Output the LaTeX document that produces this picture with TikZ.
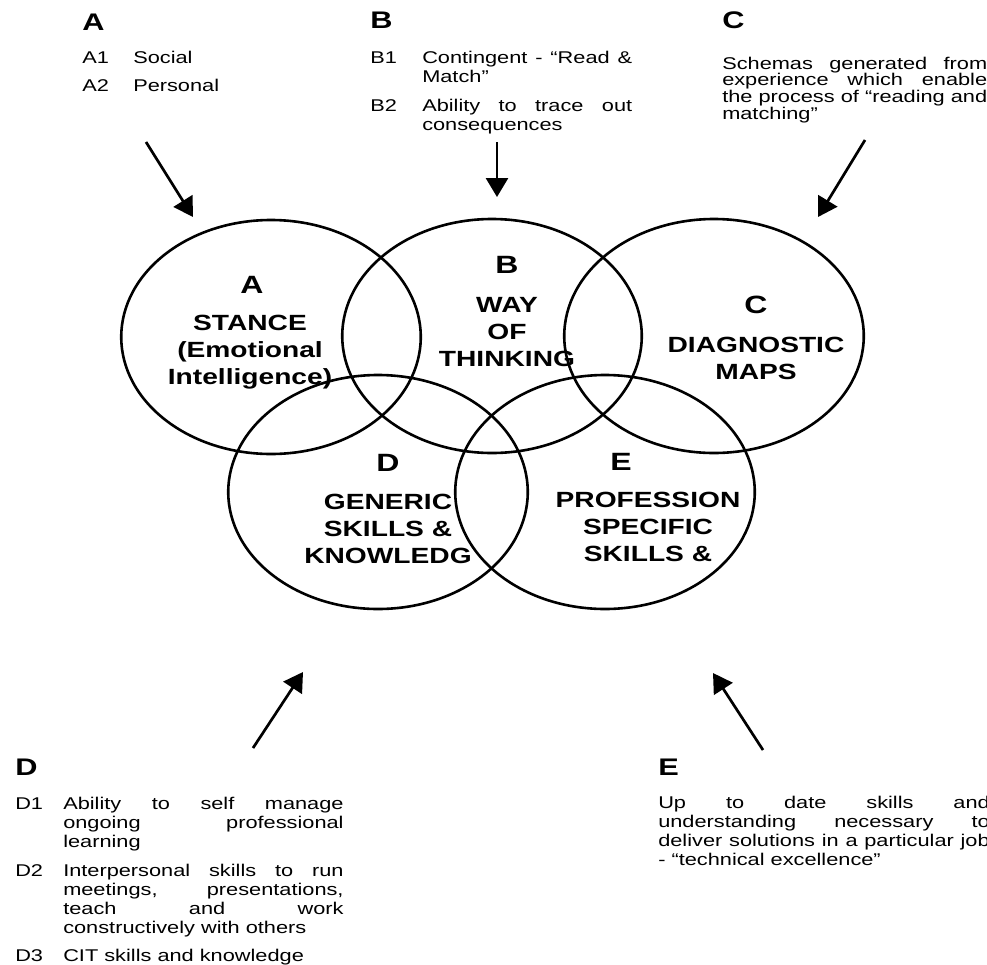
\documentclass[tikz,border=0pt]{standalone}
\usepackage{fontspec}
\setmainfont{Liberation Sans}
\usetikzlibrary{arrows.meta}
\tikzset{
    % Venn ring (a circle, stretched sideways like the rest)
    venn/.style={
        circle, draw, line width=2.6pt,
        minimum size=234pt, inner sep=0pt, xscale=1.28
    },
    % Letter and caption inside a ring
    ringletter/.style={font=\fontsize{25}{27}\selectfont\bfseries, xscale=1.28, inner sep=0pt},
    ringtext/.style={font=\fontsize{22}{27}\selectfont\bfseries, align=center,
        xscale=1.28, inner sep=0pt, anchor=north},
    % Notes round the diagram
    notehead/.style={font=\fontsize{24}{26}\selectfont\bfseries, xscale=1.28,
        inner sep=0pt, anchor=base west},
    notetag/.style={font=\fontsize{17}{19}\selectfont, xscale=1.28,
        inner sep=0pt, anchor=base west},
    notetext/.style={notetag, align=justify},
    % Arrows from the notes to the rings
    pointer/.style={-{Triangle[length=19pt,width=22pt]}, line width=2.7pt},
}

\begin{document}
\begin{tikzpicture}[x=1pt,y=-1pt]
  \path[fill=white,use as bounding box] (0,0) rectangle (987,964);
  % rings
  \foreach \n/\x/\y in {A/271/337,B/492/336,C/714/336,D/378/492,E/605/492}{\node[venn] (\n) at (\x,\y) {};}
  \node[ringletter] (lA) at (252,285) {A};
  \node[ringletter] (lB) at (507,265) {B};
  \node[ringletter] (lC) at (756,305) {C};
  \node[ringletter] (lD) at (388,463) {D};
  \node[ringletter] (lE) at (621,462) {E};
  \node[ringtext] (tA) at (250,315) {STANCE\\(Emotional\\Intelligence)};
  \node[ringtext] (tB) at (507,297) {WAY\\OF\\THINKING};
  \node[ringtext] (tC) at (756,337) {DIAGNOSTIC\\MAPS};
  \node[ringtext] (tD) at (388,494) {GENERIC\\SKILLS \&\\KNOWLEDG};
  \node[ringtext] (tE) at (648,492) {PROFESSION\\SPECIFIC\\SKILLS \&};
  % notes
  \node[notehead] (hA) at (82,30) {A};
  \node[notetag] (kA1) at (82,63) {A1};
  \node[notetag] (nA1) at (133,63) {Social};
  \node[notetag] (kA2) at (82,91) {A2};
  \node[notetag] (nA2) at (133,91) {Personal};
  \node[notehead] (hB) at (370,28) {B};
  \node[notetag] (kB1) at (370,63) {B1};
  \node[notetext,text width=164pt] (nB1) at (422,63) {Contingent - “Read \&\linebreak Match”};
  \node[notetag] (kB2) at (370,111) {B2};
  \node[notetext,text width=164pt] (nB2) at (422,111) {Ability to trace out\linebreak consequences};
  \node[notehead] (hC) at (722,28) {C};
  \node[notetext,text width=207pt,font=\fontsize{17}{15}\selectfont] (nC) at (722,69)
    {Schemas generated from\linebreak experience which enable\linebreak the process of “reading and\linebreak matching”};
  \node[notehead] (hD) at (15,775) {D};
  \node[notetag] (kD1) at (15,809) {D1};
  \node[notetext,text width=219pt] (nD1) at (63,809) {Ability to self manage\linebreak ongoing professional\linebreak learning};
  \node[notetag] (kD2) at (15,876) {D2};
  \node[notetext,text width=219pt] (nD2) at (63,876)
    {Interpersonal skills to run\linebreak meetings, presentations,\linebreak teach and work\linebreak constructively with others};
  \node[notetag] (kD3) at (15,961) {D3};
  \node[notetag] (nD3) at (63,961) {CIT skills and knowledge};
  \node[notehead] (hE) at (658,775) {E};
  \node[notetext,text width=259pt] (nE) at (658,808)
    {Up to date skills and\linebreak understanding necessary to\linebreak deliver solutions in a particular job\linebreak - “technical excellence”};
  % arrows
  \foreach \n/\fx/\fy/\tx/\ty in {A/146/142/193/217,B/497/142/497/197,C/865/140/818/217,D/253/748/303/672,E/763/750/713/673}{
    \coordinate (from\n) at (\fx,\fy); \coordinate (to\n) at (\tx,\ty);
    \draw[pointer] (from\n) -- (to\n);}
\end{tikzpicture}
\end{document}
